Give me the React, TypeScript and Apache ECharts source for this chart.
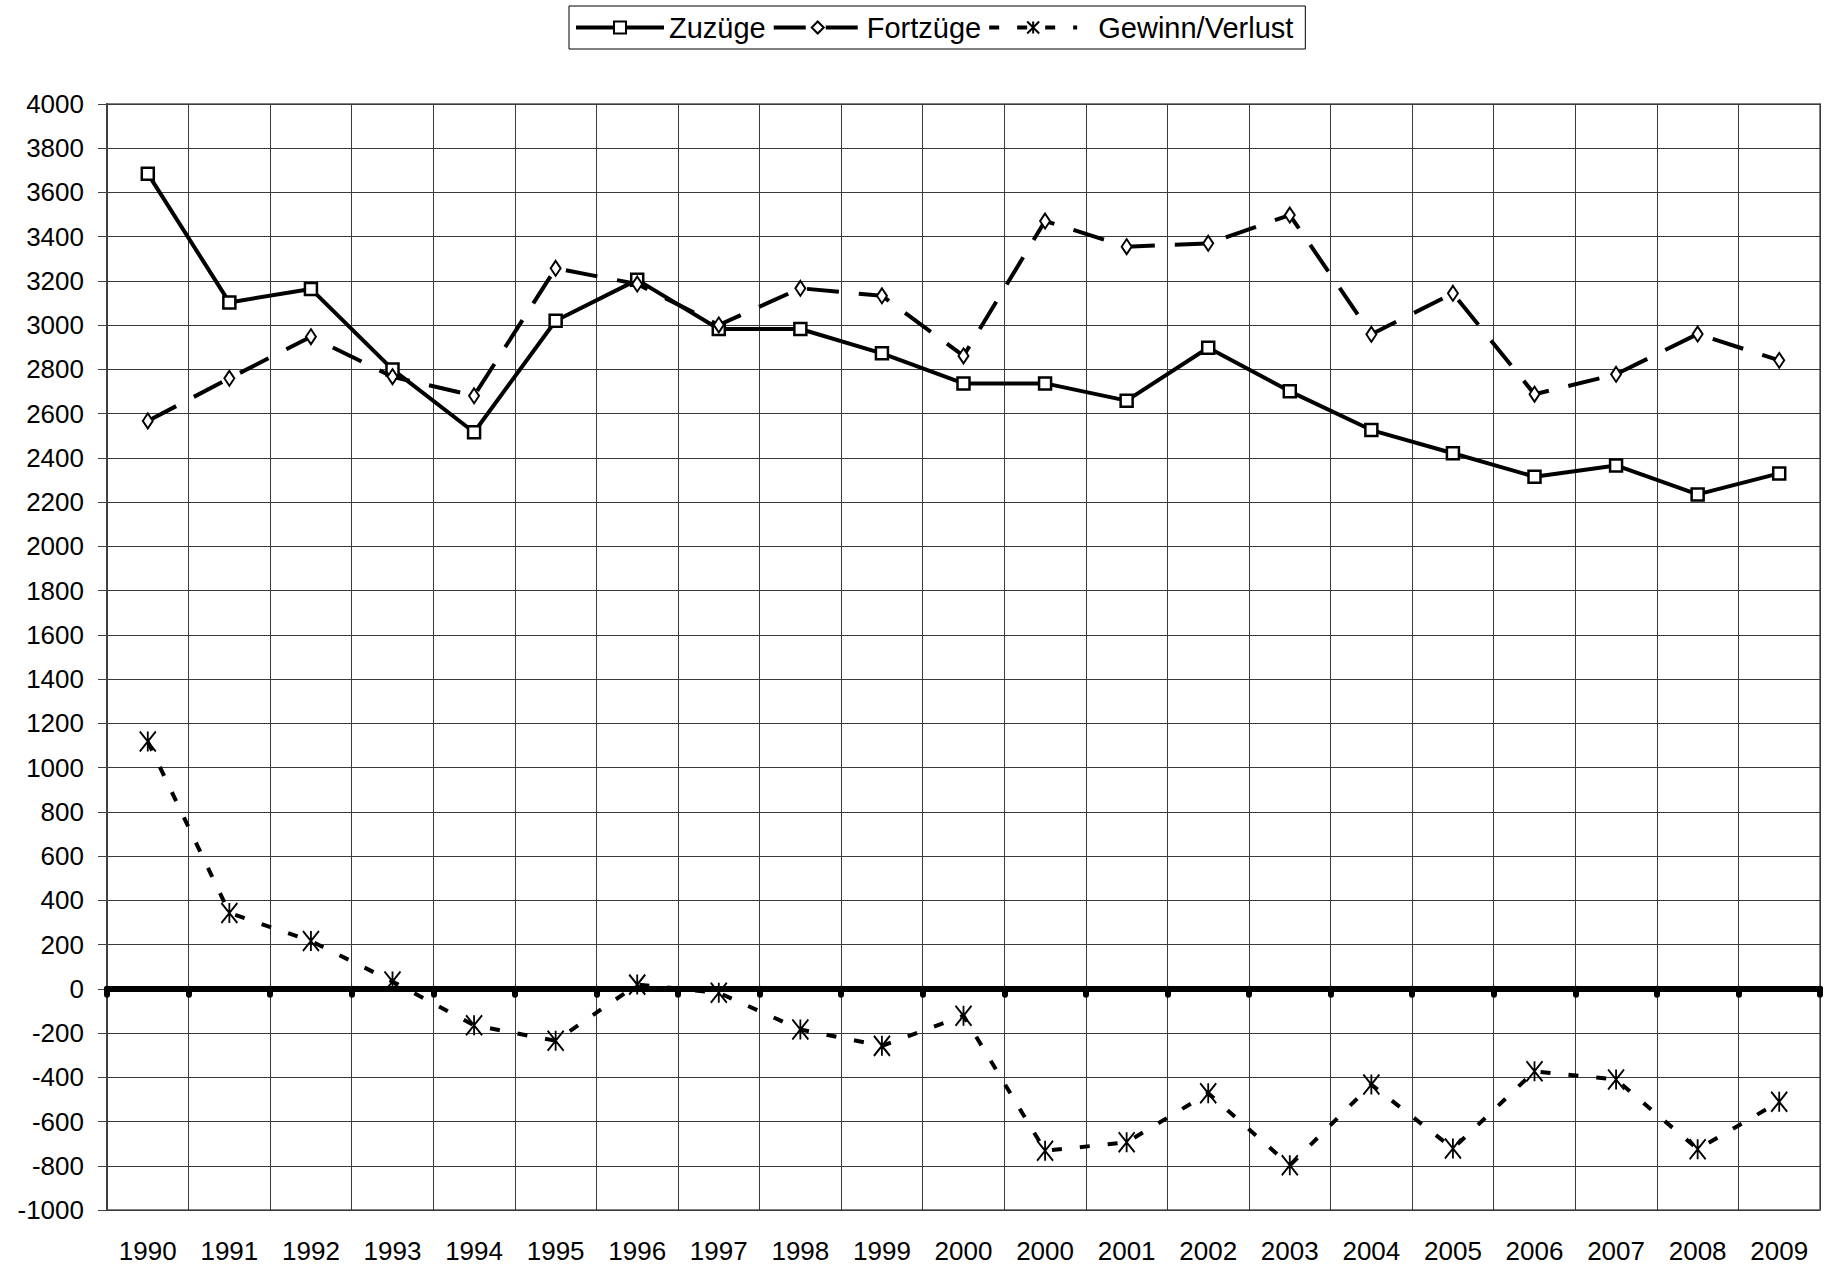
import React, { useEffect, useRef } from "react";
import * as echarts from "echarts";

const categories = [
  "1990", "1991", "1992", "1993", "1994", "1995", "1996", "1997", "1998", "1999",
  "2000", "2000", "2001", "2002", "2003", "2004", "2005", "2006", "2007", "2008", "2009",
];
const zuzuege = [3685, 3103, 3164, 2800, 2516, 3020, 3205, 2983, 2983, 2873, 2737, 2737, 2659, 2898, 2701, 2526, 2421, 2315, 2366, 2235, 2330];
const fortzuege = [2567, 2760, 2948, 2767, 2681, 3257, 3186, 3001, 3167, 3133, 2861, 3471, 3355, 3370, 3498, 2959, 3144, 2688, 2778, 2960, 2841];
const gewinn = [1118, 343, 216, 33, -165, -235, 19, -18, -184, -258, -122, -732, -694, -472, -798, -433, -722, -373, -410, -725, -511];
const seriesNames = ["Zuzüge", "Fortzüge", "Gewinn/Verlust"];

const FONT = "'Liberation Sans', Arial, sans-serif";
const asterisk = "path://M0,0L16,20M16,0L0,20M8,0L8,20";

export default function App() {
  const ref = useRef<HTMLDivElement>(null);
  useEffect(() => {
    if (!ref.current) return;
    const chart = echarts.init(ref.current, null, { renderer: "svg" });
    chart.setOption({
      animation: false,
      backgroundColor: "#fff",
      textStyle: { fontFamily: FONT, color: "#000" },
      legend: {
        left: 569,
        top: 6,
        padding: [6, 12, 6, 5],
        borderColor: "#000",
        borderWidth: 1,
        itemWidth: 88,
        itemHeight: 15,
        itemGap: 6,
        formatter: (name: string) => (name === seriesNames[2] ? "  " + name : name),
        textStyle: { fontSize: 29, fontFamily: FONT, color: "#000", lineHeight: 31 },
        data: [
          { name: seriesNames[0], lineStyle: { width: 4 } },
          { name: seriesNames[1], lineStyle: { width: 4 } },
          { name: seriesNames[2], lineStyle: { width: 4 } },
        ],
      },
      grid: {
        left: 107,
        right: 12,
        top: 104,
        bottom: 57,
        show: true,
        borderColor: "#808080",
        borderWidth: 2,
        containLabel: false,
      },
      xAxis: [
        {
          type: "category",
          data: categories,
          position: "bottom",
          boundaryGap: true,
          axisLine: { show: false, onZero: false },
          axisTick: { show: false },
          axisLabel: { fontSize: 26, fontFamily: FONT, color: "#000", margin: 28, interval: 0 },
          splitLine: { show: true, interval: 0, lineStyle: { color: "#3a3a3a", width: 1 } },
        },
        {
          type: "category",
          data: categories,
          position: "bottom",
          boundaryGap: true,
          axisLine: { show: true, onZero: true, lineStyle: { color: "#000", width: 6 } },
          axisTick: { show: true, interval: 0, length: 6, lineStyle: { color: "#000", width: 6, cap: "round" } },
          axisLabel: { show: false },
          splitLine: { show: false },
        },
      ],
      yAxis: {
        type: "value",
        min: -1000,
        max: 4000,
        interval: 200,
        axisLine: { show: true, lineStyle: { color: "#404040", width: 2 } },
        axisTick: { show: true, length: 9, lineStyle: { color: "#404040", width: 1 } },
        axisLabel: {
          fontSize: 26,
          fontFamily: FONT,
          color: "#000",
          margin: 23,
          formatter: (v: number) => String(v),
        },
        splitLine: { show: true, lineStyle: { color: "#3a3a3a", width: 1 } },
      },
      series: [
        {
          name: seriesNames[0],
          type: "line",
          xAxisIndex: 0,
          data: zuzuege,
          symbol: "rect",
          symbolSize: 12,
          showAllSymbol: true,
          lineStyle: { color: "#000", width: 4, type: "solid" },
          itemStyle: { color: "#fff", borderColor: "#000", borderWidth: 2.5 },
          z: 3,
        },
        {
          name: seriesNames[1],
          type: "line",
          xAxisIndex: 0,
          data: fortzuege,
          symbol: "diamond",
          symbolSize: [10, 15],
          showAllSymbol: true,
          lineStyle: { color: "#000", width: 4, type: [32, 20] },
          itemStyle: { color: "#fff", borderColor: "#000", borderWidth: 2 },
          z: 4,
        },
        {
          name: seriesNames[2],
          type: "line",
          xAxisIndex: 0,
          data: gewinn,
          symbol: asterisk,
          symbolSize: [16, 20],
          showAllSymbol: true,
          lineStyle: { color: "#000", width: 4, type: [10, 18] },
          itemStyle: { color: "#000", borderColor: "#000", borderWidth: 2 },
          z: 5,
        },
      ],
    });
    return () => chart.dispose();
  }, []);
  return (
    <div
      ref={ref}
      style={{ position: "fixed", left: 0, top: 0, width: 1832, height: 1267, background: "#fff" }}
    />
  );
}
